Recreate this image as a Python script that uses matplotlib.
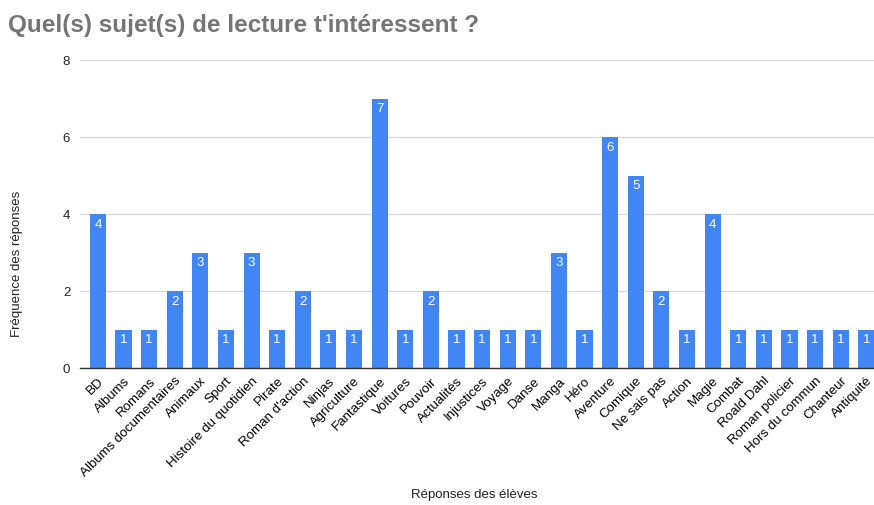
import matplotlib
matplotlib.use("Agg")
import matplotlib.pyplot as plt

categories = ["BD", "Albums", "Romans", "Albums documentaires", "Animaux", "Sport",
              "Histoire du quotidien", "Pirate", "Roman d'action", "Ninjas", "Agriculture",
              "Fantastique", "Voitures", "Pouvoir", "Actualités", "Injustices", "Voyage",
              "Danse", "Manga", "Héro", "Aventure", "Comique", "Ne sais pas", "Action",
              "Magie", "Combat", "Roald Dahl", "Roman policier", "Hors du commun",
              "Chanteur", "Antiquité"]
counts = [4, 1, 1, 2, 3, 1, 3, 1, 2, 1, 1, 7, 1, 2, 1, 1, 1, 1, 3, 1, 6, 5, 2, 1, 4,
          1, 1, 1, 1, 1, 1]
yticks = [0, 2, 4, 6, 8]

plt.rcParams['font.family'] = ['Liberation Sans', 'DejaVu Sans']

fig = plt.figure(figsize=(8.74, 5.05), dpi=100)
ax = fig.add_axes([0.0915, 0.271, 0.9085, 0.61])

x = range(len(categories))
bars = ax.bar(x, counts, width=0.63, color='#4285F4', zorder=3)
for b, v in zip(bars, counts):
    ax.text(b.get_x() + b.get_width() / 2, v - 0.12, str(v), ha='center', va='top',
            color='white', fontsize=9.5, zorder=4)

ax.set_xlim(-0.7, 30.3)
ax.set_ylim(0, 8)
ax.set_yticks(yticks)
ax.set_xticks(list(x))
ax.set_xticklabels(categories, rotation=45, ha='right', rotation_mode='anchor', fontsize=9.6)
ax.tick_params(axis='x', length=0, pad=5)
ax.tick_params(axis='y', length=0, pad=7, labelsize=9.5, labelcolor='#222222')
ax.grid(axis='y', color='#d9d9d9', linewidth=0.9, zorder=0)
for s in ['top', 'right', 'left']:
    ax.spines[s].set_visible(False)
ax.spines['bottom'].set_color('#333333')
ax.spines['bottom'].set_linewidth(1.0)
ax.spines['bottom'].set_zorder(5)

fig.text(0.02, 0.477, "Fréquence des réponses", rotation=90, ha='center', va='center',
         fontsize=9.5, color='#222222')
fig.text(0.543, 0.02, "Réponses des élèves", ha='center', va='center', fontsize=9.5,
         color='#222222')
fig.text(0.009, 0.95, "Quel(s) sujet(s) de lecture t'intéressent ?", ha='left',
         va='center', fontsize=17.5, fontweight='bold', color='#757575')

fig.savefig("out.png", dpi=100)
